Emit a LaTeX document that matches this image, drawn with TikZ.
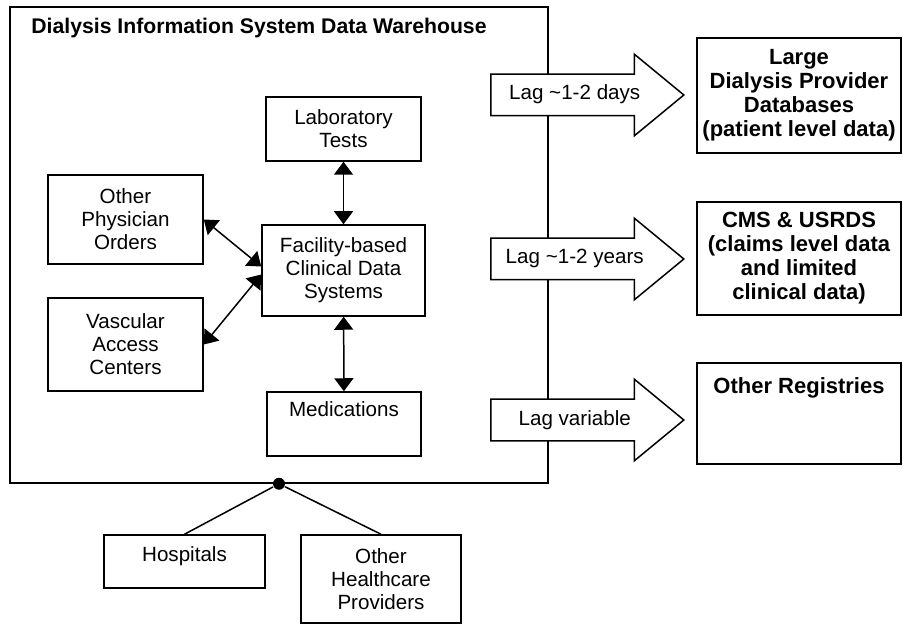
\documentclass[tikz,border=0pt]{standalone}
\usepackage{fontspec}
\setmainfont{Liberation Sans}
\usetikzlibrary{shapes.arrows,arrows.meta,positioning}

\begin{document}
\begin{tikzpicture}[x=0.5pt,y=-0.5pt,>={Triangle[length=6.5pt,width=9.5pt]},line width=0.75pt,
  every node/.style={font=\fontsize{10.3}{11.5}\selectfont},
  box/.style={draw,shape=rectangle,align=center,inner sep=1pt},
  bigbox/.style={box,font=\fontsize{11}{12}\selectfont\bfseries},
  lag/.style={draw,fill=white,shape=single arrow,single arrow head extend=10pt,single arrow tip angle=79,
    minimum height=96.5pt,inner xsep=1pt,inner ysep=5.5pt,text height=7pt,text depth=2pt,
    anchor=tip,font=\fontsize{10.3}{11}\selectfont},]
	\useasboundingbox (0,0) rectangle (903,624);
	% create the nodes
	\node (wh) [draw, minimum width=269pt, minimum height=238pt, inner sep=0] at (279,245) {};
	\node (title) [anchor=base west, font=\fontsize{10.6}{12}\selectfont\bfseries] at (24,34) {Dialysis Information System Data Warehouse};
	\node (lab) [box, minimum width=77.5pt, minimum height=32pt] at (343.5,129) {Laboratory\\Tests};
	\node (fac) [box, minimum width=81.5pt, minimum height=45.5pt] at (343.5,270.5) {Facility-based\\Clinical Data\\Systems};
	\node (med) [box, minimum width=77pt, minimum height=32pt] at (344,424) {Medications\\\strut};
	\node (opo) [box, minimum width=77.5pt, minimum height=44.5pt] at (125.5,219.5) {Other\\Physician\\Orders};
	\node (vac) [box, minimum width=77.5pt, minimum height=46.5pt] at (125.5,344.5) {Vascular\\Access\\Centers};
	\node (hub) [circle, fill, inner sep=0, minimum size=6pt] at (wh.south) {};
	\node (hos) [draw, inner sep=1pt, minimum width=80.5pt, minimum height=26.5pt, text height=7.5pt, text depth=8pt] at (184.5,561.5) {Hospitals};
	\node (ohp) [box, minimum width=80pt, minimum height=44pt] at (381,579) {Other\\Healthcare\\Providers};
	\node (days) [lag] at (685,95) {Lag \textasciitilde1-2 days};
	\node (years) [lag] at (685,259) {Lag \textasciitilde1-2 years};
	\node (var) [lag] at (685,420) {Lag variable};
	\node (ldp) [bigbox, minimum width=102pt, minimum height=57.5pt] at (799,95.5) {Large\\Dialysis Provider\\Databases\\(patient level data)};
	\node (cms) [bigbox, minimum width=102pt, minimum height=56.5pt] at (799,258.5) {CMS \& USRDS\\(claims level data\\and limited\\clinical data)};
	\node (oreg) [bigbox, minimum width=102pt, minimum height=50.5pt] at (799,413.5) {Other Registries\\\strut\\\strut};

	% connect the nodes
	\draw[<->] (lab) -- (fac);
	\draw[<->] (fac) -- (med);
	\draw[<->] (opo.east) -- ([yshift=2pt]fac.west);
	\draw[<->] (vac.east) -- ([yshift=-2pt]fac.west);
	\draw (hub) -- (hos.north);
	\draw (hub) -- (ohp.north);
\end{tikzpicture}
\end{document}
